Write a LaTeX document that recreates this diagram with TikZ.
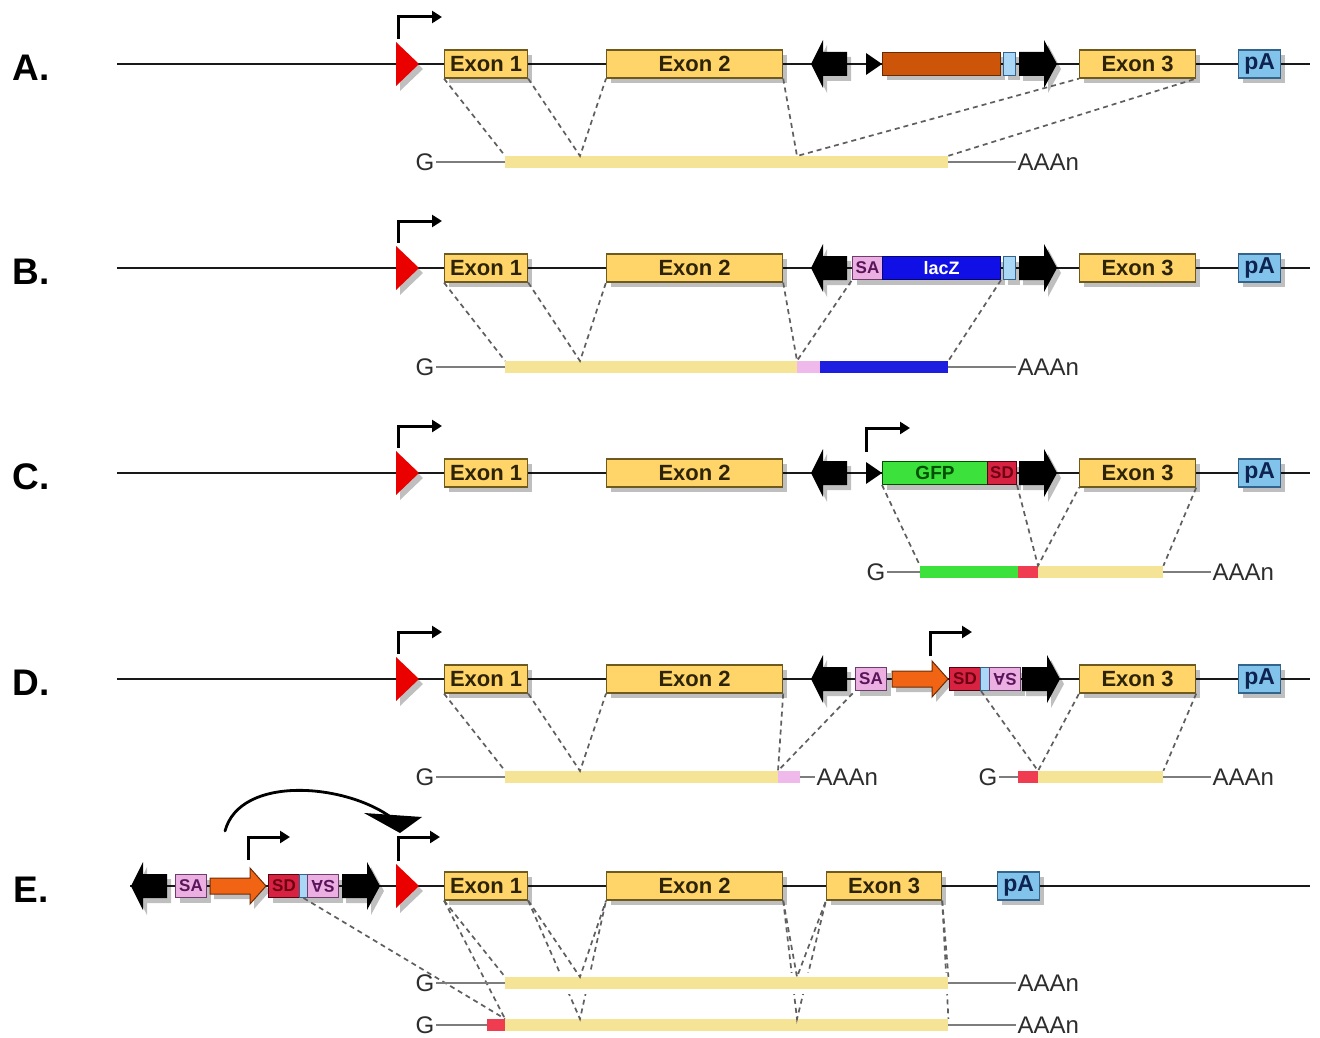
\documentclass[tikz,border=0pt]{standalone}
\usepackage{fontspec}
\usepackage{graphicx}
\setmainfont{Liberation Sans}
\usetikzlibrary{shadows,arrows.meta}
\definecolor{exfill}{RGB}{255,212,105}
\definecolor{exdraw}{RGB}{110,90,30}
\definecolor{extext}{RGB}{45,35,5}
\definecolor{mry}{RGB}{246,228,150}
\definecolor{pafill}{RGB}{130,195,235}
\definecolor{padraw}{RGB}{50,100,140}
\definecolor{patext}{RGB}{15,35,80}
\definecolor{redtri}{RGB}{235,0,0}
\definecolor{orng}{RGB}{205,85,10}
\definecolor{orarrow}{RGB}{240,100,20}
\definecolor{ltblue}{RGB}{170,215,245}
\definecolor{lacz}{RGB}{15,15,230}
\definecolor{pinkf}{RGB}{235,175,225}
\definecolor{pinkd}{RGB}{110,60,110}
\definecolor{pinkt}{RGB}{90,20,90}
\definecolor{sdred}{RGB}{215,35,65}
\definecolor{sdtext}{RGB}{110,0,20}
\definecolor{gfp}{RGB}{60,225,60}
\definecolor{gfpt}{RGB}{0,80,0}
\definecolor{mrred}{RGB}{240,60,80}
\definecolor{mrpink}{RGB}{240,185,235}
\definecolor{mrblue}{RGB}{30,30,225}
\definecolor{grayl}{RGB}{125,125,125}
\definecolor{dashc}{RGB}{95,95,95}
\definecolor{txtgray}{RGB}{45,45,45}
\tikzset{
  shad/.style={drop shadow={shadow xshift=4pt,shadow yshift=-5pt,opacity=.25,fill=black}},
  box/.style={draw,line width=1.2pt,inner sep=0pt,minimum height=28pt,anchor=west,shad,
    font=\bfseries\fontsize{22}{22}\selectfont},
  exon/.style={box,fill=exfill,draw=exdraw,text=extext},
  pabox/.style={box,fill=pafill,draw=padraw,text=patext,minimum width=42pt,font=\bfseries\fontsize{23}{23}\selectfont},
  cas/.style={draw,line width=1pt,inner sep=0pt,minimum height=23pt,anchor=west,shad,
    font=\bfseries\fontsize{17}{17}\selectfont},
  sabox/.style={cas,fill=pinkf,draw=pinkd,text=pinkt},
  sdbox/.style={cas,fill=sdred,draw=sdtext!80!black,text=sdtext},
  lbbox/.style={cas,fill=ltblue,draw=padraw},
  orbox/.style={cas,fill=orng,draw=orng!50!black},
  laczbox/.style={cas,fill=lacz,draw=lacz!50!black,text=white,font=\bfseries\fontsize{18}{18}\selectfont},
  gfpbox/.style={cas,fill=gfp,draw=gfpt,text=gfpt,font=\bfseries\fontsize{19}{19}\selectfont},
  bar/.style={inner sep=0pt,minimum height=12pt,anchor=west},
  halo/.style={preaction={draw=white,line width=9pt}},
  mainline/.style={line width=2.8pt,draw=black!90},
  gline/.style={line width=1.6pt,draw=grayl},
  dsh/.style={dash pattern=on 5pt off 4pt,line width=1.7pt,draw=dashc},
  prom/.style={line width=3pt,-{Triangle[length=10pt,width=12pt]}},
  gtext/.style={font=\fontsize{24}{24}\selectfont,text=txtgray,inner sep=1.5pt},
  rowlab/.style={font=\bfseries\fontsize{37}{37}\selectfont,inner sep=0pt},
  larrow/.pic={\fill[black,shad] (0,0) -- (12,-24) -- (12,-12) -- (36,-12) -- (36,12) -- (12,12) -- (12,24) -- cycle;},
  rarrow/.pic={\fill[black,shad] (0,-12) -- (25,-12) -- (25,-24) -- (38,0) -- (25,24) -- (25,12) -- (0,12) -- cycle;},
  smalltri/.pic={\fill[black] (0,-11) -- (16,0) -- (0,11) -- cycle;},
  orarr/.pic={\filldraw[fill=orarrow,draw=orarrow!45!black,line width=1pt,shad] (0,-8) -- (40,-8) -- (40,-18) -- (56,0) -- (40,18) -- (40,8) -- (0,8) -- cycle;}
}
\newcommand\stdrow[2]{%
  \draw[mainline] (117,#2) -- (1310,#2);
  \fill[redtri,shad] (396,#2-22) -- (419,#2) -- (396,#2+22) -- cycle;
  \node[exon,minimum width=83pt] (#1e1) at (444,#2) {Exon 1};
  \node[exon,minimum width=176pt] (#1e2) at (606,#2) {Exon 2};
  \node[exon,minimum width=116pt] (#1e3) at (1079,#2) {Exon 3};
  \node[pabox] (#1pa) at (1238,#2) {pA};
  \draw[prom] (398,#2-25) -- (398,#2-47) -- (442,#2-47);
}
\begin{document}
\begin{tikzpicture}[x=1pt,y=-1pt]
\useasboundingbox (0,0) rectangle (1320,1038);
\fill[white] (0,0) rectangle (1320,1038);
% row labels
\node[rowlab] (LA) at (31,68) {A.};
\node[rowlab] (LB) at (31,272) {B.};
\node[rowlab] (LC) at (31,477) {C.};
\node[rowlab] (LD) at (31,683) {D.};
\node[rowlab] (LE) at (31,890) {E.};

% ================= A
\stdrow{A}{64}
\pic at (811,64) {larrow};
\pic at (866,64) {smalltri};
\node[orbox,minimum width=118pt] (Aor) at (882,64) {};
\node[lbbox,minimum width=12pt] (Alb) at (1003,64) {};
\pic at (1019,64) {rarrow};
% mRNA A
\node[bar,fill=mry,minimum width=443pt] (Am) at (505,162) {};
\node[gtext] (AG) at (425,162) {G};
\node[gtext,anchor=west] (AA) at (1016,162) {AAAn};
\draw[gline] (AG.east) -- (Am.west);
\draw[gline] (Am.east) -- (AA.west);
\coordinate (Aj1) at (580,156);
\coordinate (Aj2) at (797,156);
\draw[dsh] (Ae1.south west) -- (Am.north west);
\draw[dsh] (Ae1.south east) -- (Aj1) -- (Ae2.south west);
\draw[dsh] (Ae2.south east) -- (Aj2) -- (Ae3.south west);
\draw[dsh] (Am.north east) -- (Ae3.south east);

% ================= B
\stdrow{B}{268}
\pic at (811,268) {larrow};
\node[sabox,minimum width=30pt] (BSA) at (852,268) {SA};
\node[laczbox,minimum width=118pt] (Blz) at (882,268) {lacZ};
\node[lbbox,minimum width=12pt] (Blb) at (1003,268) {};
\pic at (1019,268) {rarrow};
% mRNA B
\node[bar,fill=mry,minimum width=292pt] (Bm1) at (505,367) {};
\node[bar,fill=mrpink,minimum width=23pt] (Bm2) at (797,367) {};
\node[bar,fill=mrblue,minimum width=128pt] (Bm3) at (820,367) {};
\node[gtext] (BG) at (425,367) {G};
\node[gtext,anchor=west] (BA) at (1016,367) {AAAn};
\draw[gline] (BG.east) -- (Bm1.west);
\draw[gline] (Bm3.east) -- (BA.west);
\coordinate (Bj1) at (580,361);
\draw[dsh] (Be1.south west) -- (Bm1.north west);
\draw[dsh] (Be1.south east) -- (Bj1) -- (Be2.south west);
\draw[dsh] (Be2.south east) -- (Bm2.north west) -- (BSA.south west);
\draw[dsh] (Blz.south east) -- (Bm3.north east);

% ================= C
\stdrow{C}{473}
\pic at (811,473) {larrow};
\pic at (866,473) {smalltri};
\node[gfpbox,minimum width=105pt] (Cgfp) at (882,473) {GFP};
\node[sdbox,minimum width=29pt] (Csd) at (987,473) {SD};
\pic at (1019,473) {rarrow};
\draw[prom] (866,452) -- (866,428) -- (910,428);
% mRNA C
\node[bar,fill=gfp,minimum width=98pt] (Cm1) at (920,572) {};
\node[bar,fill=mrred,minimum width=20pt] (Cm2) at (1018,572) {};
\node[bar,fill=mry,minimum width=125pt] (Cm3) at (1038,572) {};
\node[gtext] (CG) at (876,572) {G};
\node[gtext,anchor=west] (CA) at (1211,572) {AAAn};
\draw[gline] (CG.east) -- (Cm1.west);
\draw[gline] (Cm3.east) -- (CA.west);
\draw[dsh] (Cgfp.south west) -- (Cm1.north west);
\draw[dsh] (Csd.south east) -- (Cm3.north west) -- (Ce3.south west);
\draw[dsh] (Ce3.south east) -- (Cm3.north east);

% ================= D
\stdrow{D}{679}
\pic at (811,679) {larrow};
\node[sabox,minimum width=31pt] (DSA) at (855,679) {SA};
\pic at (892,679) {orarr};
\node[sdbox,minimum width=31pt] (Dsd) at (949,679) {SD};
\node[lbbox,minimum width=9pt] (Dlb) at (980,679) {};
\node[sabox,minimum width=31pt] (Dsa) at (989,679) {\rotatebox{180}{SA}};
\pic at (1022,679) {rarrow};
\draw[prom] (930,656) -- (930,632) -- (972,632);
% mRNA D1
\node[bar,fill=mry,minimum width=273pt] (Dm1) at (505,777) {};
\node[bar,fill=mrpink,minimum width=22pt] (Dm2) at (778,777) {};
\node[gtext] (DG) at (425,777) {G};
\node[gtext,anchor=west] (DA) at (815,777) {AAAn};
\draw[gline] (DG.east) -- (Dm1.west);
\draw[gline] (Dm2.east) -- (DA.west);
\coordinate (Dj1) at (580,771);
\draw[dsh] (De1.south west) -- (Dm1.north west);
\draw[dsh] (De1.south east) -- (Dj1) -- (De2.south west);
\draw[dsh] (De2.south east) -- (Dm2.north west) -- (DSA.south west);
% mRNA D2
\node[bar,fill=mrred,minimum width=20pt] (Dn1) at (1018,777) {};
\node[bar,fill=mry,minimum width=125pt] (Dn2) at (1038,777) {};
\node[gtext] (DG2) at (988,777) {G};
\node[gtext,anchor=west] (DA2) at (1211,777) {AAAn};
\draw[gline] (DG2.east) -- (Dn1.west);
\draw[gline] (Dn2.east) -- (DA2.west);
\draw[dsh] (Dsd.south east) -- (Dn2.north west) -- (De3.south west);
\draw[dsh] (De3.south east) -- (Dn2.north east);

% ================= E
\draw[mainline] (130,886) -- (1310,886);
\pic at (131,886) {larrow};
\node[sabox,minimum width=31pt] (ESA) at (175,886) {SA};
\pic at (210,886) {orarr};
\node[sdbox,minimum width=31pt] (Esd) at (268,886) {SD};
\node[lbbox,minimum width=8pt] (Elb) at (299,886) {};
\node[sabox,minimum width=31pt] (Esa) at (307,886) {\rotatebox{180}{SA}};
\pic at (342,886) {rarrow};
\fill[redtri,shad] (396,864) -- (419,886) -- (396,908) -- cycle;
\node[exon,minimum width=83pt] (Ee1) at (444,886) {Exon 1};
\node[exon,minimum width=176pt] (Ee2) at (606,886) {Exon 2};
\node[exon,minimum width=115pt] (Ee3) at (826,886) {Exon 3};
\node[pabox] (Epa) at (997,886) {pA};
\draw[prom] (248,860) -- (248,837) -- (290,837);
\draw[prom] (398,861) -- (398,837) -- (440,837);
% curved arrow
\coordinate (Ec1) at (225,831);
\coordinate (Ec2) at (392,818);
\draw[line width=2.8pt,line cap=round] (Ec1) .. controls (240,775) and (345,783) .. (Ec2);
\fill (364,813) -- (422,817) -- (400,833) -- cycle;
% mRNA E2 (lower)
\node[bar,fill=mrred,minimum width=18pt] (En1) at (487,1025) {};
\node[bar,fill=mry,minimum width=443pt] (En2) at (505,1025) {};
\coordinate (Ek1) at (580,1019);
\coordinate (Ek2) at (797,1019);
\draw[dsh] (Elb.south) -- (En2.north west);
\draw[dsh] (Ee1.south west) -- (En2.north west);
\draw[dsh] (Ee1.south east) -- (Ek1) -- (Ee2.south west);
\draw[dsh] (Ee2.south east) -- (Ek2) -- (Ee3.south west);
\draw[dsh] (Ee3.south east) -- (En2.north east);
% mRNA E1 (upper)
\node[bar,fill=mry,minimum width=443pt,halo] (Em) at (505,983) {};
\coordinate (Ej1) at (580,977);
\coordinate (Ej2) at (797,977);
\draw[dsh] (Ee1.south west) -- (Em.north west);
\draw[dsh] (Ee1.south east) -- (Ej1) -- (Ee2.south west);
\draw[dsh] (Ee2.south east) -- (Ej2) -- (Ee3.south west);
\draw[dsh] (Ee3.south east) -- (Em.north east);
\node[gtext] (EG) at (425,983) {G};
\node[gtext,anchor=west] (EA) at (1016,983) {AAAn};
\draw[gline] (EG.east) -- (Em.west);
\draw[gline] (Em.east) -- (EA.west);
\node[gtext] (EG2) at (425,1025) {G};
\node[gtext,anchor=west] (EA2) at (1016,1025) {AAAn};
\draw[gline] (EG2.east) -- (En1.west);
\draw[gline] (En2.east) -- (EA2.west);
\end{tikzpicture}
\end{document}
